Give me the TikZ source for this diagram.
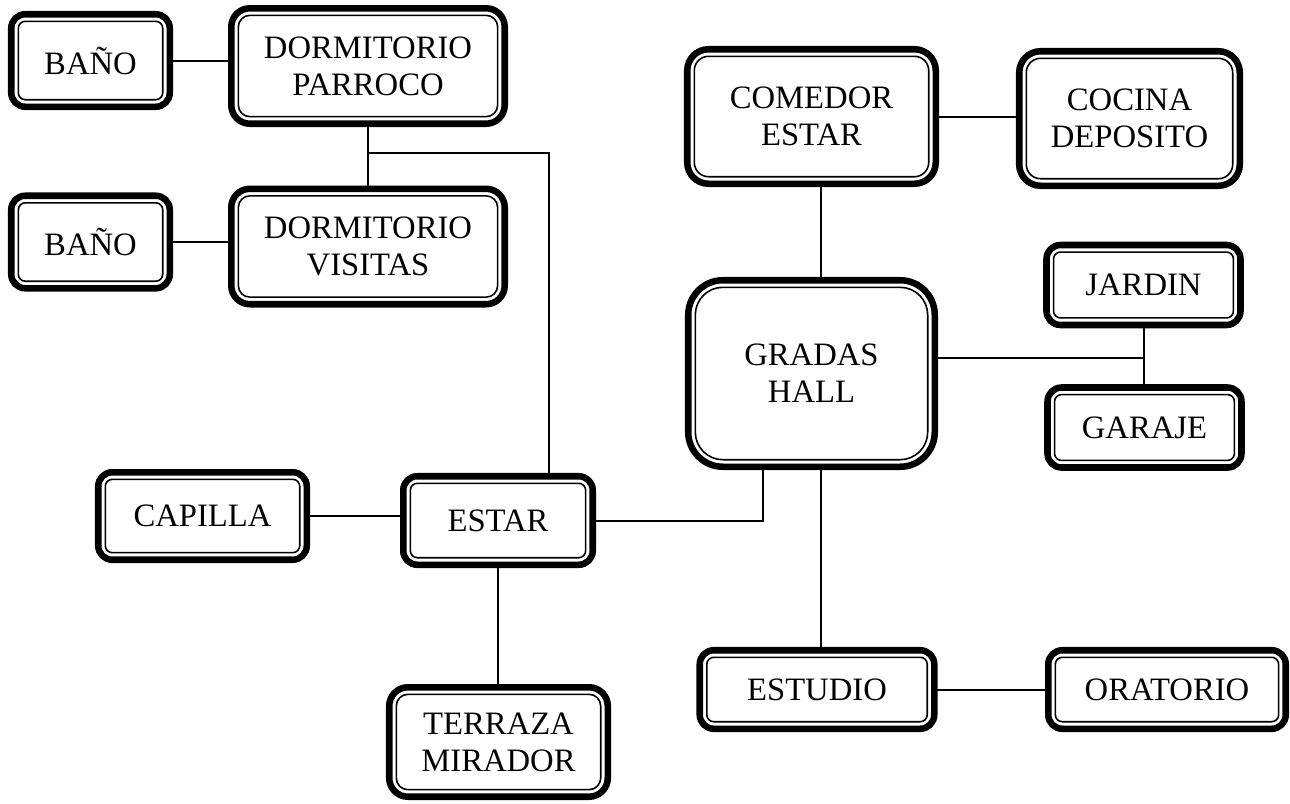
\documentclass[tikz,border=0pt]{standalone}
\usepackage{fontspec}
\setmainfont{Liberation Serif}
\usepackage{tikz}
\usetikzlibrary{positioning, calc}

\begin{document}
\begin{tikzpicture}[
      x=0.75pt, y=-0.75pt,
      font=\fontsize{24.5}{27.75}\selectfont,
      room/.style={
        draw, line width=4.9pt, rounded corners=#1, outer sep=0pt,
        inner sep=0pt, align=center, fill=white,
        path picture={
          \draw[line width=1.2pt, rounded corners=#1-5.3pt]
            ([shift={(5.3pt,5.3pt)}]path picture bounding box.south west) rectangle
            ([shift={(-5.3pt,-5.3pt)}]path picture bounding box.north east);}
      },
      room/.default=10.5pt,
      link/.style={line width=1.5pt}
    ]
      \useasboundingbox (0,0) rectangle (1290,804);
      % left wing
      \node[room, minimum width=118.9pt, minimum height=69.4pt] (bano1) at (90.5,60.5) {BAÑO};
      \node[room=14pt, minimum width=205.1pt, minimum height=86.6pt] (parroco) at (368,66) {DORMITORIO\\PARROCO};
      \node[room, minimum width=118.9pt, minimum height=69.4pt] (bano2) at (90.5,242) {BAÑO};
      \node[room=14pt, minimum width=205.1pt, minimum height=86.6pt] (visitas) at (368,246.5) {DORMITORIO\\VISITAS};
      \node[room, minimum width=156.4pt, minimum height=65.6pt] (capilla) at (202.5,516) {CAPILLA};
      \node[room, minimum width=142.1pt, minimum height=66.4pt] (estar) at (498,520.5) {ESTAR};
      \node[room=14pt, minimum width=163.9pt, minimum height=82.1pt] (terraza) at (498.5,742) {TERRAZA\\MIRADOR};
      % right wing
      \node[room=16pt, minimum width=186.4pt, minimum height=100.9pt] (comedor) at (811.5,116.5) {COMEDOR\\ESTAR};
      \node[room=16pt, minimum width=165.4pt, minimum height=100.9pt] (cocina) at (1129.5,118.5) {COCINA\\DEPOSITO};
      \node[room=26pt, minimum width=184.9pt, minimum height=139.9pt] (gradas) at (811.5,373.5) {GRADAS\\HALL};
      \node[room, minimum width=145.5pt, minimum height=60pt] (jardin) at (1143.5,285) {JARDIN};
      \node[room, minimum width=145.5pt, minimum height=60pt] (garaje) at (1144.5,427.5) {GARAJE};
      \node[room, minimum width=175.9pt, minimum height=58.9pt] (estudio) at (817,689.5) {ESTUDIO};
      \node[room, minimum width=178.1pt, minimum height=58.9pt] (oratorio) at (1167,689.5) {ORATORIO};

      \coordinate (split) at (368,153);
      \coordinate (yard) at (1144,358);
      \foreach \a/\b in {bano1/parroco, bano2/visitas, capilla/estar, comedor/cocina}{
        \draw[link] (\a.east) -- (\a.east -| \b.west);}
      \draw[link] (parroco) -- (visitas);
      \draw[link] (split) -| ([xshift=38.25pt]estar.north);
      \draw[link] (estar.south) -- (estar.south |- terraza.north);
      \draw[link] (comedor.south -| 821,0) -- (gradas.north -| 821,0);
      \draw[link] (gradas.south -| 821,0) -- (estudio.north -| 821,0);
      \draw[link] ([xshift=-36.4pt]gradas.south) |- (estar.east);
      \draw[link] (gradas.east |- yard) -- (yard);
      \draw[link] (jardin.south -| yard) -- (garaje.north -| yard);
      \draw[link] (estudio) -- (oratorio);
    \end{tikzpicture}
\end{document}
